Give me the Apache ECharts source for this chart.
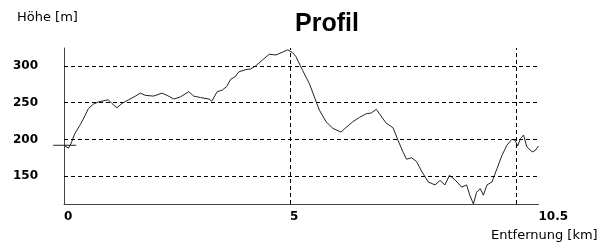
<!DOCTYPE html>
<html>
<head>
<meta charset="utf-8">
<script src="https://cdn.jsdelivr.net/npm/echarts@6/dist/echarts.min.js"></script>
<style>
html,body{margin:0;padding:0;background:#fff;}
#chart{width:604px;height:247px;}
</style>
</head>
<body>
<div id="chart"></div>
<script>
const distanceKm = [0.00,0.10,0.16,0.24,0.36,0.47,0.54,0.65,0.76,0.98,1.06,1.17,1.28,1.43,1.58,1.69,1.80,1.98,2.17,2.28,2.43,2.58,2.76,2.87,3.02,3.21,3.27,3.39,3.50,3.60,3.69,3.78,3.87,4.02,4.13,4.24,4.39,4.54,4.69,4.84,4.95,5.06,5.13,5.28,5.43,5.54,5.65,5.80,5.95,6.13,6.20,6.24,6.39,6.54,6.69,6.80,6.91,6.98,7.13,7.28,7.39,7.50,7.58,7.69,7.80,7.91,8.06,8.21,8.32,8.43,8.53,8.65,8.80,8.91,8.98,9.06,9.13,9.21,9.28,9.36,9.47,9.58,9.69,9.80,9.91,9.98,10.04,10.10,10.17,10.24,10.36,10.43,10.50];
const elevationM = [192,188,195,208,220,233,242,248,251,254,249,243,249,254,259,263,260,259,263,260,255,258,265,259,257,255,252,265,267,272,282,285,292,295,296,300,308,316,315,319,322,318,313,294,276,258,240,224,215,210,214,212,224,230,235,236,241,235,222,216,199,183,173,175,170,157,142,138,144,138,151,145,135,138,124,112,128,133,124,138,142,160,178,192,200,199,191,201,206,190,183,185,191];
const yTickValues = [150,200,250,300];
const xLabelValues = [0,5,10.5];
const xGridValues = [5,10];
const startMarkerKm = [-0.24,0.27];
const yMin = 112, yMax = 324.5, xMin = 0, xMax = 10.5;

const profileData = distanceKm.map((d,i)=>[d, elevationM[i]]);
const startSegment = [[startMarkerKm[0], startMarkerKm[1], elevationM[0]]];

const chart = echarts.init(document.getElementById('chart'), null, {renderer:'canvas'});
const dashed = {color:'#000', width:1, type:[4,3]};
chart.setOption({
  animation:false,
  backgroundColor:'#fff',
  title:[
    {text:'Profil', left:290, top:7, textStyle:{fontFamily:'Liberation Sans', fontWeight:'bold', fontSize:25, color:'#000'}},
    {text:'Höhe [m]', left:12, top:6, textStyle:{fontFamily:'DejaVu Sans', fontWeight:'normal', fontSize:13, color:'#000'}},
    {text:'Entfernung [km]', left:486, top:224, textStyle:{fontFamily:'DejaVu Sans', fontWeight:'normal', fontSize:13, color:'#000'}}
  ],
  grid:{left:64, top:48, right:65.5, bottom:43, containLabel:false},
  xAxis:{
    type:'value', min:xMin, max:xMax,
    axisLine:{show:true, onZero:false, lineStyle:{color:'#444', width:1}},
    axisTick:{show:false},
    splitLine:{show:false},
    axisLabel:{customValues:xLabelValues, align:'left', margin:7, color:'#000', fontFamily:'DejaVu Sans', fontWeight:'bold', fontSize:12,
      formatter:v=>String(v)}
  },
  yAxis:{
    type:'value', min:yMin, max:yMax,
    axisLine:{show:true, onZero:false, lineStyle:{color:'#444', width:1}},
    axisTick:{show:false},
    splitLine:{show:false},
    axisLabel:{customValues:yTickValues, margin:26, color:'#000', fontFamily:'DejaVu Sans', fontWeight:'bold', fontSize:12}
  },
  series:[
    {
      type:'line', data:profileData, showSymbol:false, symbol:'none',
      lineStyle:{color:'#222', width:1}, z:3,
      markLine:{
        silent:true, symbol:['none','none'], label:{show:false}, animation:false,
        lineStyle:dashed,
        data:[...yTickValues.map(v=>({yAxis:v})), ...xGridValues.map(v=>({xAxis:v}))]
      }
    },
    {
      type:'custom', data:startSegment, clip:false, z:4, silent:true,
      encode:{x:[0,1], y:2},
      renderItem:function(params, api){
        const p0 = api.coord([api.value(0), api.value(2)]);
        const p1 = api.coord([api.value(1), api.value(2)]);
        return {type:'line', shape:{x1:p0[0], y1:p0[1], x2:p1[0], y2:p1[1]},
          style:{stroke:'#222', lineWidth:1}};
      }
    }
  ]
});
</script>
</body>
</html>
